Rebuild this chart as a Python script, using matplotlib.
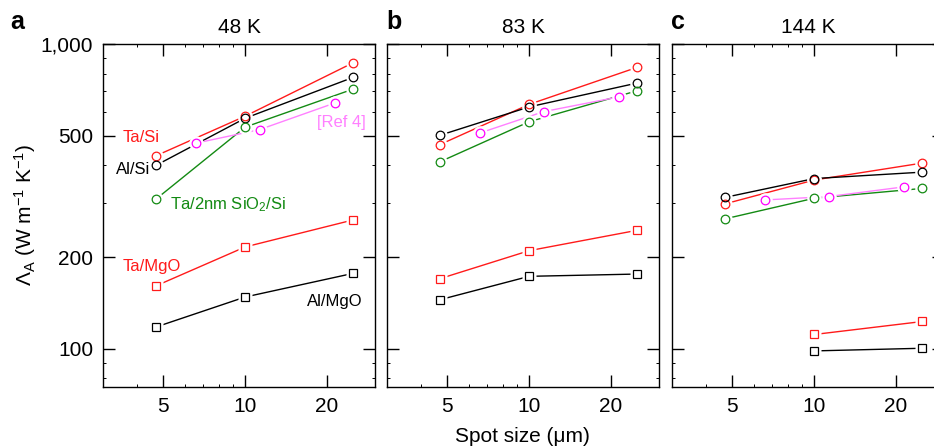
import matplotlib
matplotlib.use("Agg")
import matplotlib.pyplot as plt  # noqa: E402
from matplotlib.ticker import FixedLocator, LogLocator, NullFormatter  # noqa: E402

plt.rcParams["font.family"] = ["Liberation Sans", "DejaVu Sans"]
plt.rcParams["mathtext.fontset"] = "custom"
plt.rcParams["mathtext.rm"] = "Liberation Sans"
plt.rcParams["mathtext.it"] = "Liberation Sans:italic"

# spot sizes (um)
SPOT = [4.7, 10, 25]
SPOT_REF = [6.6, 11.3, 21.4]
SPOT_C_MGO = [10, 25]

PANELS = ["a", "b", "c"]
TEMPS = ["48 K", "83 K", "144 K"]

# Lambda_A values (W m^-1 K^-1), one list per panel
TA_SI = [[430, 580, 869], [468, 634, 839], [299, 358, 407]]
AL_SI = [[400, 571, 778], [502, 622, 745], [314, 362, 380]]
TA_SIO2_SI = [[310, 534, 712], [411, 556, 703], [267, 312, 336]]
REF4 = [[473, 524, 641], [511, 600, 671], [308, 316, 340]]
TA_MGO = [[161, 216, 265], [170, 210, 245], [111.5, 123]]
AL_MGO = [[118, 148, 177], [145, 173, 176], [98.5, 100.5]]

YTICKS = [100, 200, 500, 1000]
YTICK_LABELS = ["100", "200", "500", "1,000"]
XTICKS = [5, 10, 20]

RED = "#ff1a1a"
GREEN = "#138a13"
MAGENTA = "#ff00ff"
PINK = "#ff80ff"

fig = plt.figure(figsize=(9.34, 4.47), dpi=100)
lefts = [103, 387, 672]
axes = [fig.add_axes([l / 934, 60 / 447, 272 / 934, 343 / 447]) for l in lefts]

for i, ax in enumerate(axes):
    xs_mgo = SPOT_C_MGO if i == 2 else SPOT
    series = [
        (SPOT, TA_SI[i], "o", RED, RED),
        (SPOT, AL_SI[i], "o", "black", "black"),
        (SPOT, TA_SIO2_SI[i], "o", GREEN, GREEN),
        (SPOT_REF, REF4[i], "o", MAGENTA, PINK),
        (xs_mgo, TA_MGO[i], "s", RED, RED),
        (xs_mgo, AL_MGO[i], "s", "black", "black"),
    ]
    # lines first, then white blobs to open a gap round each marker, then markers
    for xs, ys, m, mc, lc in series:
        ax.plot(xs, ys, "-", color=lc, lw=1.0, zorder=2)
    for xs, ys, m, mc, lc in series:
        ax.plot(xs, ys, ls="none", marker=m, ms=10.5 if m == "o" else 9.5,
                mfc="white", mec="none", zorder=3)
    for xs, ys, m, mc, lc in series:
        ax.plot(xs, ys, ls="none", marker=m, ms=6.2 if m == "o" else 5.4,
                mfc="none", mec=mc, mew=0.9, zorder=4)

    ax.set_xscale("log")
    ax.set_yscale("log")
    ax.set_xlim(3, 30)
    ax.set_ylim(75, 1000)
    ax.xaxis.set_major_locator(FixedLocator(XTICKS))
    ax.set_xticklabels([str(t) for t in XTICKS])
    ax.xaxis.set_minor_locator(LogLocator(subs=range(2, 10)))
    ax.xaxis.set_minor_formatter(NullFormatter())
    ax.yaxis.set_major_locator(FixedLocator(YTICKS))
    ax.yaxis.set_minor_locator(LogLocator(subs=range(2, 10)))
    ax.yaxis.set_minor_formatter(NullFormatter())
    if i == 0:
        ax.set_yticklabels(YTICK_LABELS)
    else:
        ax.set_yticklabels([])
    ax.tick_params(which="both", direction="in", top=True, right=True)
    ax.tick_params(which="major", length=8.5, width=1.0, labelsize=15, pad=7)
    ax.tick_params(which="minor", length=2.0, width=0.7)
    for sp in ax.spines.values():
        sp.set_linewidth(1.0)
    ax.set_title(TEMPS[i], fontsize=15, pad=8)

# labels in panel a
ax = axes[0]
ax.text(3.53, 492, "Ta/Si", color=RED, fontsize=12, va="center", ha="left")
ax.text(3.36, 389, "Al/Si", color="black", fontsize=12, va="center", ha="left")
ax.text(5.3, 297, "Ta/2nm SiO$_2$/Si", color=GREEN, fontsize=12, va="center", ha="left")
ax.text(27.8, 551, "[Ref 4]", color=PINK, fontsize=12, va="center", ha="right")
ax.text(3.53, 187, "Ta/MgO", color=RED, fontsize=12, va="center", ha="left")
ax.text(26.9, 142.6, "Al/MgO", color="black", fontsize=12, va="center", ha="right")

# panel letters
for letter, x in zip(PANELS, [10, 386, 671]):
    fig.text(x / 934, 1 - 29 / 447, letter, fontsize=18, fontweight="bold",
             ha="left", va="baseline")

fig.text(25 / 934, 1 - 215 / 447, "Λ$_\\mathrm{A}$ (W m$^{-1}$ K$^{-1}$)",
         fontsize=15, rotation=90, ha="center", va="center")
fig.text(522 / 934, 1 - 437 / 447, "Spot size (μm)", fontsize=15,
         ha="center", va="center")

fig.savefig("out.png", dpi=100)
